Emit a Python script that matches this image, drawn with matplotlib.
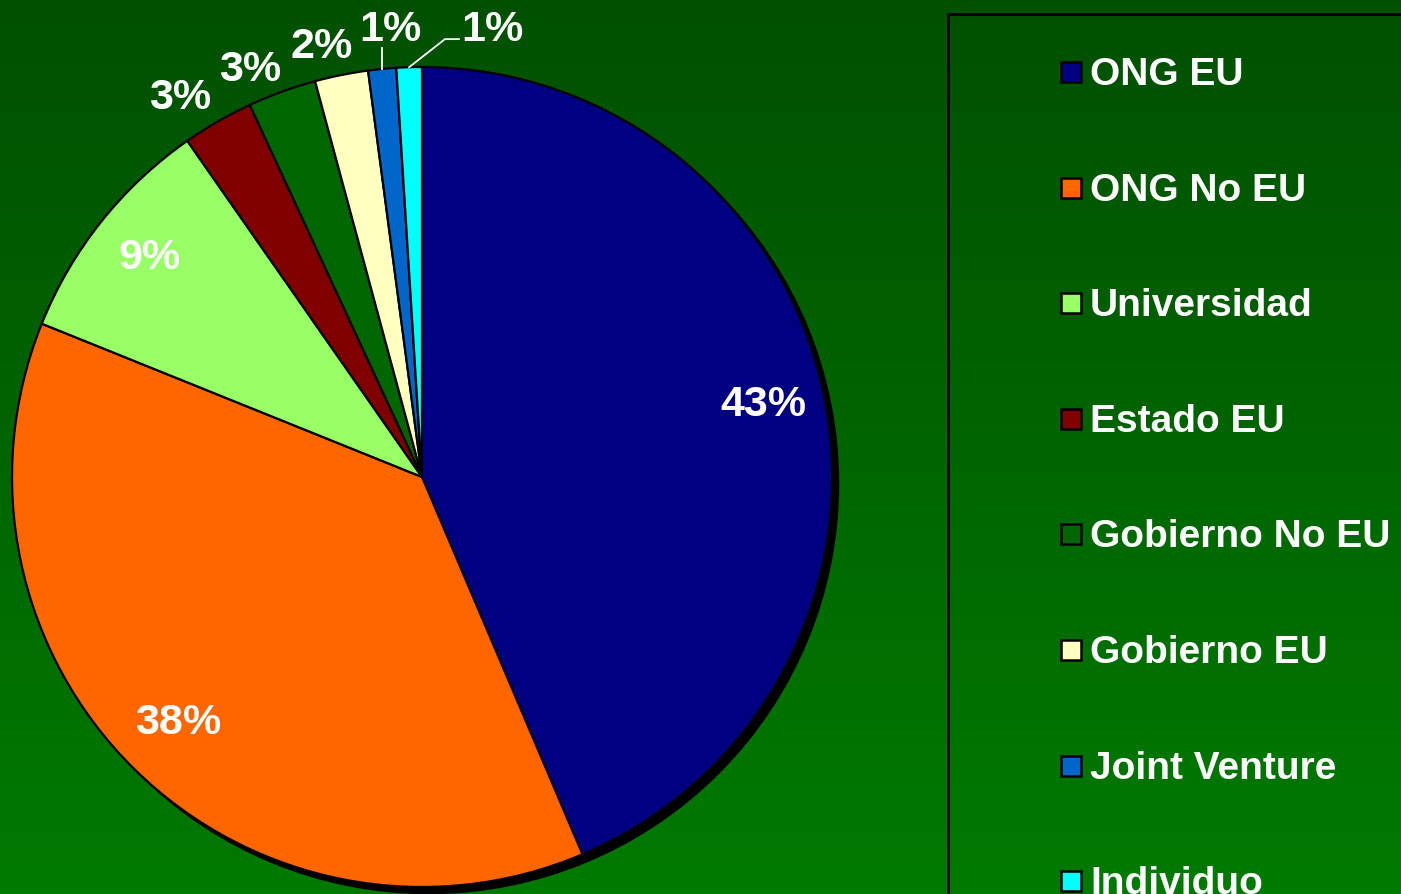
import matplotlib
matplotlib.use('Agg')
import matplotlib.pyplot as plt
import numpy as np
from matplotlib.patches import Rectangle, Circle

plt.rcParams['font.family'] = ['Liberation Sans', 'DejaVu Sans']
plt.rcParams['font.weight'] = 'bold'

# datos
categorias = ['ONG EU', 'ONG No EU', 'Universidad', 'Estado EU',
              'Gobierno No EU', 'Gobierno EU', 'Joint Venture', 'Individuo']
valores = [43.6, 37.5, 9.2, 2.8, 2.7, 2.1, 1.1, 1.0]
etiquetas = ['43%', '38%', '9%', '3%', '3%', '2%', '1%', '1%']
colores = ['#000080', '#FF6600', '#99FF66', '#800000',
           '#006600', '#FFFFC0', '#0066CC', '#00FFFF']

W, H = 1401, 895
fig = plt.figure(figsize=(W / 100, H / 100), dpi=100)

# fondo degradado verde
bg = fig.add_axes([0, 0, 1, 1], zorder=-10)
grad = np.linspace(0, 1, 256)[:, None]
top = np.array([0, 80, 0]) / 255
bot = np.array([0, 122, 0]) / 255
img = top[None, None, :] * (1 - grad[..., None]) + bot[None, None, :] * grad[..., None]
bg.imshow(img, aspect='auto', extent=[0, 1, 0, 1])
bg.axis('off')

# ejes del pastel: centro (422, 478) px, radio 410 px
cx, cy, R = 422, 478, 410
ax = fig.add_axes([(cx - R) / W, (H - cy - R) / H, 2 * R / W, 2 * R / H])

wedges, _ = ax.pie(valores, colors=colores, startangle=90, counterclock=False,
                   radius=1.0, wedgeprops=dict(edgecolor='black', linewidth=1.6))
for w in wedges:
    w.set_zorder(1)
ax.set_xlim(-1, 1)
ax.set_ylim(-1, 1)
ax.axis('off')

# sombra
ax.add_patch(Circle((0.016, -0.016), 1.0, color='black', zorder=0, clip_on=False))

# etiquetas interiores
for i in range(3):
    w = wedges[i]
    ang = np.deg2rad((w.theta1 + w.theta2) / 2)
    ax.text(0.85 * np.cos(ang), 0.85 * np.sin(ang) + 0.008, etiquetas[i],
            ha='center', va='center', color='white', fontsize=31,
            fontweight='bold', zorder=3)

# etiquetas exteriores
pos_ext = {3: (-0.59, 0.928), 4: (-0.42, 0.994), 5: (-0.244, 1.05),
           6: (-0.078, 1.092), 7: (0.171, 1.092)}
for i, (x, y) in pos_ext.items():
    ax.text(x, y, etiquetas[i], ha='center', va='center', color='white',
            fontsize=31, fontweight='bold', zorder=3, clip_on=False)

# líneas guía
w = wedges[6]
a = np.deg2rad((w.theta1 + w.theta2) / 2)
ax.plot([np.cos(a), np.cos(a)], [np.sin(a), 1.046], color='white', lw=1.3,
        clip_on=False, zorder=2)
w = wedges[7]
a = np.deg2rad((w.theta1 + w.theta2) / 2)
ax.plot([np.cos(a), 0.056, 0.09], [np.sin(a), 1.068, 1.068], color='white', lw=1.3,
        clip_on=False, zorder=2)

# leyenda
fig.patches.append(Rectangle((948 / W, -0.1), 0.5, (H - 15) / H + 0.1,
                             transform=fig.transFigure, fill=False,
                             edgecolor='black', linewidth=2))
y0, paso = 73, 115.6
for i, (cat, col) in enumerate(zip(categorias, colores)):
    yc = y0 + i * paso
    fig.patches.append(Rectangle((1061 / W, (H - yc - 10) / H), 20 / W, 20 / H,
                                 transform=fig.transFigure, facecolor=col,
                                 edgecolor='black', linewidth=1.8))
    fig.text(1090 / W, (H - yc - 2) / H, cat, ha='left', va='center', color='white',
             fontsize=28, fontweight='bold')

plt.savefig('out.png', dpi=100)
plt.close()
